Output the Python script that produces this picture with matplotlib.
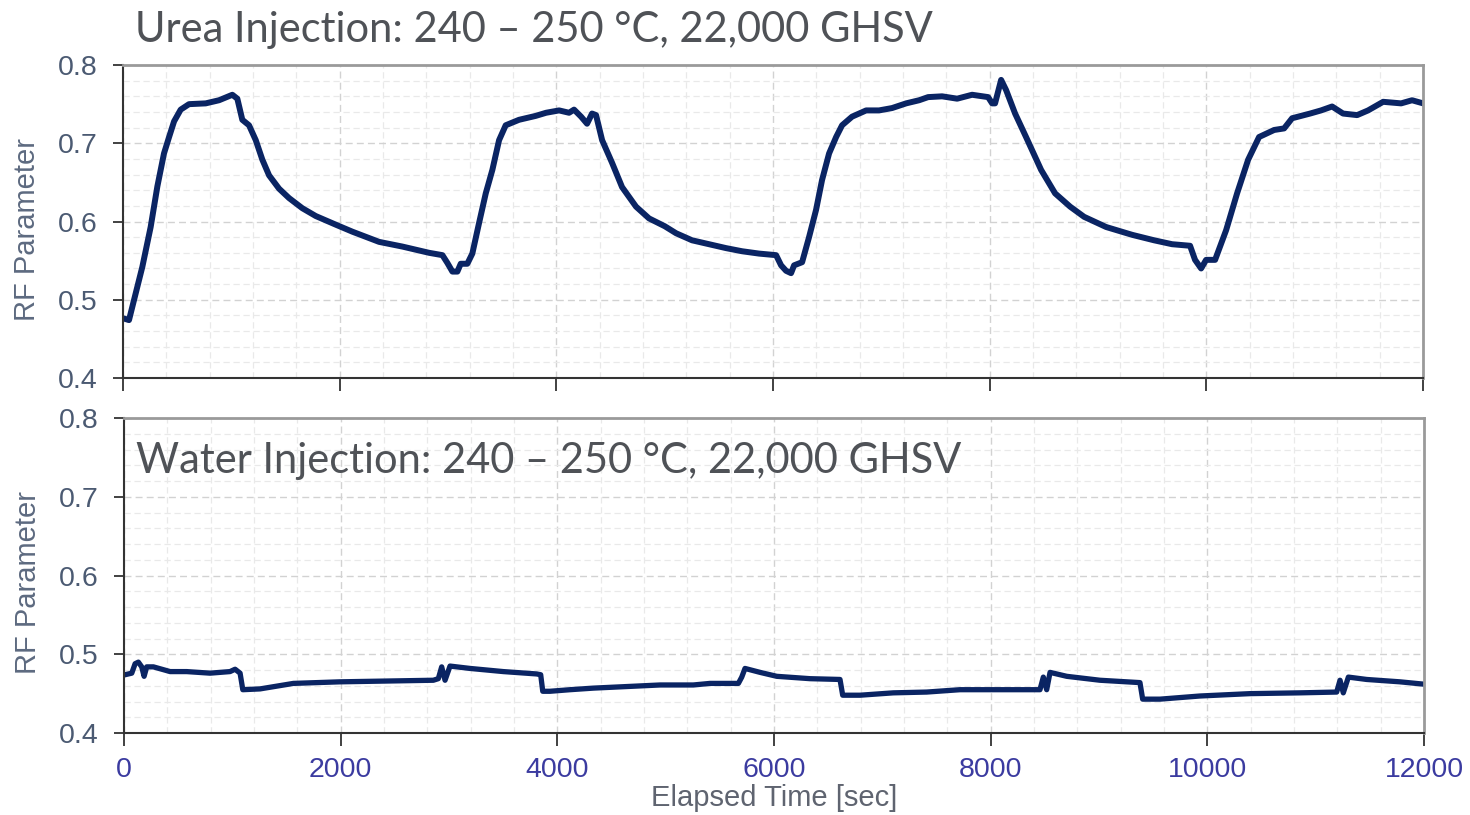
import matplotlib
matplotlib.use("Agg")
import matplotlib.pyplot as plt
from matplotlib.ticker import MultipleLocator, FormatStrFormatter

# Urea injection run: elapsed time [s] and RF parameter
urea_time = [0, 9, 55, 102, 178, 255, 317, 378, 425, 471, 532, 609, 763, 886, 1009, 1055,
             1101, 1163, 1225, 1286, 1348, 1440, 1532, 1655, 1779, 1963, 2117, 2363, 2578,
             2825, 2948, 2994, 3040, 3086, 3117, 3178, 3224, 3286, 3348, 3409, 3471, 3532,
             3655, 3809, 3905, 4025, 4117, 4163, 4228, 4283, 4329, 4366, 4422, 4514,
             4606, 4735, 4855, 5000, 5105, 5252, 5409, 5566, 5714, 5871, 6028, 6074, 6120,
             6166, 6194, 6268, 6332, 6397, 6452, 6517, 6582, 6637, 6729, 6859, 6978, 7098,
             7228, 7348, 7431, 7560, 7699, 7837, 7985, 8022, 8049, 8105, 8151, 8234, 8335,
             8474, 8603, 8742, 8871, 9074, 9314, 9517, 9683, 9849, 9895, 9951, 9997, 10080,
             10182, 10283, 10385, 10486, 10625, 10717, 10791, 10957, 11058, 11160, 11261,
             11391, 11492, 11631, 11797, 11898, 12000]
urea_rf = [0.476, 0.476, 0.474, 0.500, 0.542, 0.593, 0.645, 0.687, 0.708, 0.728, 0.743,
           0.750, 0.751, 0.755, 0.762, 0.757, 0.730, 0.723, 0.704, 0.679, 0.659, 0.642,
           0.630, 0.617, 0.607, 0.596, 0.587, 0.574, 0.568, 0.560, 0.557, 0.547, 0.536,
           0.536, 0.546, 0.546, 0.559, 0.598, 0.636, 0.666, 0.704, 0.723, 0.730, 0.735,
           0.739, 0.742, 0.739, 0.743, 0.734, 0.725, 0.738, 0.736, 0.704, 0.675, 0.644,
           0.619, 0.604, 0.594, 0.585, 0.576, 0.571, 0.566, 0.562, 0.559, 0.557, 0.544,
           0.537, 0.534, 0.544, 0.548, 0.580, 0.615, 0.653, 0.687, 0.708, 0.723, 0.734,
           0.742, 0.742, 0.745, 0.751, 0.755, 0.759, 0.760, 0.757, 0.762, 0.759, 0.751,
           0.751, 0.781, 0.768, 0.738, 0.708, 0.666, 0.636, 0.619, 0.606, 0.593, 0.583,
           0.576, 0.571, 0.569, 0.551, 0.540, 0.551, 0.551, 0.589, 0.636, 0.679, 0.708,
           0.717, 0.719, 0.732, 0.738, 0.742, 0.747, 0.738, 0.736, 0.742, 0.753, 0.751,
           0.755, 0.751]

# Water injection run: elapsed time [s] and RF parameter
water_time = [0, 9, 71, 102, 132, 163, 185, 209, 271, 425, 578, 794, 978, 1025, 1071,
              1096, 1255, 1563, 1994, 2425, 2855, 2901, 2932, 2963, 3009, 3194, 3501, 3809,
              3846, 3865, 3932, 4117, 4332, 4640, 4948, 5255, 5409, 5671, 5702, 5732, 5871,
              6025, 6332, 6609, 6634, 6794, 7101, 7409, 7717, 8178, 8455, 8486, 8517, 8548,
              8702, 9009, 9378, 9403, 9563, 9932, 10394, 10855, 11194, 11225, 11255, 11302,
              11471, 11778, 12000]
water_rf = [0.474, 0.474, 0.476, 0.488, 0.490, 0.484, 0.472, 0.484, 0.484, 0.478, 0.478,
            0.476, 0.478, 0.481, 0.476, 0.455, 0.456, 0.463, 0.465, 0.466, 0.467, 0.469,
            0.484, 0.467, 0.485, 0.482, 0.478, 0.475, 0.474, 0.453, 0.453, 0.455, 0.457,
            0.459, 0.461, 0.461, 0.463, 0.463, 0.471, 0.482, 0.477, 0.472, 0.469, 0.468,
            0.448, 0.448, 0.451, 0.452, 0.455, 0.455, 0.455, 0.471, 0.455, 0.477, 0.472,
            0.467, 0.464, 0.443, 0.443, 0.447, 0.450, 0.451, 0.452, 0.467, 0.451, 0.471,
            0.468, 0.465, 0.462]

x_ticks = [0, 2000, 4000, 6000, 8000, 10000, 12000]
y_ticks = [0.4, 0.5, 0.6, 0.7, 0.8]

line_color = "#0a2463"
ytick_color = "#4b5a72"
xtick_color = "#3b3ba0"
label_color = "#5d6a80"
title_color = "#4f5257"
sans = "Liberation Sans"

fig = plt.figure(figsize=(14.7, 8.15), dpi=100)
ax_top = fig.add_axes([0.0837, 0.5362, 0.8844, 0.3840])
ax_bot = fig.add_axes([0.0844, 0.1006, 0.8843, 0.3865])


def style_axes(ax, show_xlabels, label_y):
    ax.set_xlim(0, 12000)
    ax.set_ylim(0.4, 0.8)
    ax.set_xticks(x_ticks)
    ax.set_yticks(y_ticks)
    ax.xaxis.set_minor_locator(MultipleLocator(400))
    ax.yaxis.set_minor_locator(MultipleLocator(0.02))
    ax.grid(which="major", color="#d2d2d2", linestyle=(0, (5, 3)), linewidth=1.0)
    ax.grid(which="minor", color="#e9e9e9", linestyle=(0, (5, 3)), linewidth=0.9)
    ax.set_axisbelow(True)
    ax.tick_params(which="minor", length=0)
    ax.tick_params(axis="y", which="major", direction="out", length=7, width=1.3,
                   color="#333333", labelsize=20.5, labelcolor=ytick_color, pad=11)
    ax.tick_params(axis="x", which="major", direction="out", length=9, width=1.3,
                   color="#333333", labelsize=20.5, labelcolor=xtick_color, pad=8,
                   labelbottom=show_xlabels)
    ax.yaxis.set_major_formatter(FormatStrFormatter("%.1f"))
    for side in ("left", "bottom"):
        ax.spines[side].set_color("#333333")
        ax.spines[side].set_linewidth(1.5)
    for side in ("top", "right"):
        ax.spines[side].set_color("#9a9a9a")
        ax.spines[side].set_linewidth(2.0)
    ax.set_ylabel("RF Parameter", fontsize=21, color=label_color, family=sans)
    ax.yaxis.set_label_coords(-0.063, label_y)
    for lbl in ax.get_xticklabels() + ax.get_yticklabels():
        lbl.set_family(sans)


ax_top.plot(urea_time, urea_rf, color=line_color, linewidth=4.3,
            solid_joinstyle="round", solid_capstyle="round")
ax_bot.plot(water_time, water_rf, color=line_color, linewidth=3.8,
            solid_joinstyle="round", solid_capstyle="round")

style_axes(ax_top, False, 0.475)
style_axes(ax_bot, True, 0.478)

ax_bot.set_xlabel("Elapsed Time [sec]", fontsize=21, color="#5f6470",
                  family=sans, labelpad=1)

fig.text(135 / 1470, 1 - 30 / 815, "Urea Injection: 240 – 250 °C, 22,000 GHSV",
         fontsize=30, color=title_color, family="Lato", va="center", ha="left")
ax_bot.text(12 / 1300, 0.865, "Water Injection: 240 – 250 °C, 22,000 GHSV",
            transform=ax_bot.transAxes, fontsize=30, color=title_color,
            family="Lato", va="center", ha="left")

fig.savefig("out.png", dpi=100, facecolor="white")
